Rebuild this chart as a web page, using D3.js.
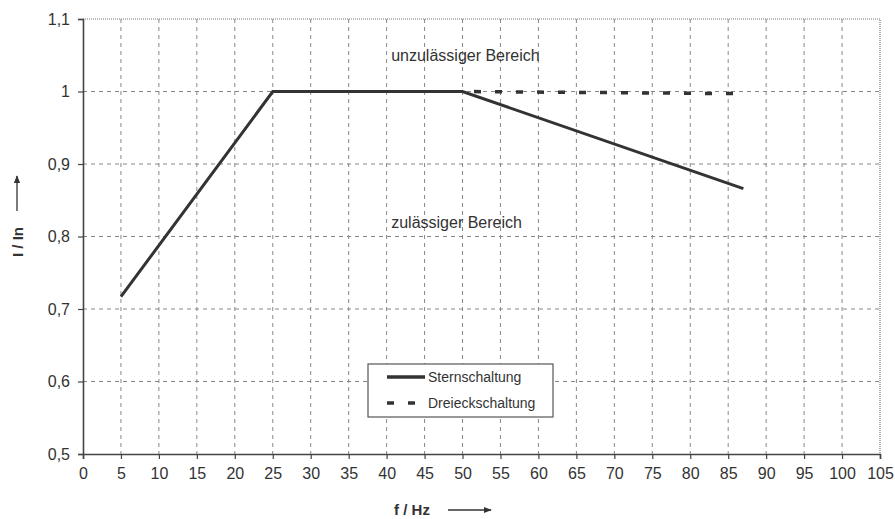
<!DOCTYPE html>
<html>
<head>
<meta charset="utf-8">
<script src="https://cdn.jsdelivr.net/npm/d3@7"></script>
<style>
body { margin: 0; background: #fff; }
svg { font-family: "Liberation Sans", Arial, sans-serif; }
</style>
</head>
<body>
<svg id="svg" width="895" height="519"></svg>
<script>
// chart data
var xTicks = d3.range(0, 106, 5)
var yTicks = [0.5, 0.6, 0.7, 0.8, 0.9, 1.0, 1.1]
var sternF = [5, 25, 50, 87]
var sternI = [0.717, 1.0, 1.0, 0.866]
var dreieckF = [50, 87]
var dreieckI = [1.0, 0.997]
var seriesNames = ["Sternschaltung", "Dreieckschaltung"]

var svg = d3.select("#svg")
var m = {left: 83, right: 15, top: 19, bottom: 65}
var w = 895 - m.left - m.right
var h = 519 - m.top - m.bottom

var x = d3.scaleLinear().domain([0, 105]).range([0, w])
var y = d3.scaleLinear().domain([0.5, 1.1]).range([h, 0])

var g = svg.append("g").attr("transform", "translate(" + m.left + "," + m.top + ")")
var fmt = function(d) { return d3.format(".1~f")(d).replace(".", ",") }

// grid
g.append("g").selectAll("line").data(xTicks.slice(1, -1)).join("line")
	.attr("x1", d => x(d)).attr("x2", d => x(d))
	.attr("y1", 0).attr("y2", h)
	.attr("stroke", "#888").attr("stroke-width", 1).attr("stroke-dasharray", "4,4")
g.append("g").selectAll("line").data(yTicks.slice(1, -1)).join("line")
	.attr("x1", 0).attr("x2", w)
	.attr("y1", d => y(d)).attr("y2", d => y(d))
	.attr("stroke", "#888").attr("stroke-width", 1).attr("stroke-dasharray", "4,4")

// dotted top and right border
g.append("path")
	.attr("d", "M0,0H" + w + "V" + h)
	.attr("fill", "none").attr("stroke", "#777").attr("stroke-width", 1.2)
	.attr("stroke-dasharray", "1,1")

// axes
var xAxis = g.append("g").attr("transform", "translate(0," + h + ")")
	.call(d3.axisBottom(x).tickValues(xTicks).tickSize(5).tickPadding(9))
var yAxis = g.append("g")
	.call(d3.axisLeft(y).tickValues(yTicks).tickFormat(fmt).tickSize(5).tickPadding(8))
;[xAxis, yAxis].forEach(function(a) {
	a.selectAll(".domain").attr("stroke", "#444").attr("stroke-width", 1.6)
	a.selectAll(".tick line").attr("stroke", "#444").attr("stroke-width", 1.2)
	a.selectAll("text").attr("font-size", 16).attr("fill", "#333")
		.attr("font-family", "Liberation Sans, Arial, sans-serif")
})

// curves
var line = d3.line().x(d => x(d[0])).y(d => y(d[1]))
g.append("path")
	.datum(d3.zip(sternF, sternI))
	.attr("d", line)
	.attr("fill", "none").attr("stroke", "#333").attr("stroke-width", 3)
	.attr("stroke-linejoin", "miter")
g.append("path")
	.datum(d3.zip(dreieckF, dreieckI))
	.attr("d", line)
	.attr("fill", "none").attr("stroke", "#333").attr("stroke-width", 3.5)
	.attr("stroke-dasharray", "7,14").attr("stroke-dashoffset", 9.5)

// region labels
g.append("text").attr("x", x(40.6)).attr("y", y(1.05)).attr("dy", "0.35em")
	.attr("font-size", 16).attr("fill", "#333").text("unzulässiger Bereich")
g.append("text").attr("x", x(40.6)).attr("y", y(0.82)).attr("dy", "0.35em")
	.attr("font-size", 16).attr("fill", "#333").text("zulässiger Bereich")

// legend
var lg = svg.append("g").attr("transform", "translate(368,364)")
lg.append("rect").attr("width", 185).attr("height", 53)
	.attr("fill", "#fff").attr("stroke", "#555").attr("stroke-width", 1.2)
seriesNames.forEach(function(name, i) {
	var yy = 13 + i * 26
	lg.append("line").attr("x1", 19).attr("x2", 57).attr("y1", yy).attr("y2", yy)
		.attr("stroke", "#333").attr("stroke-width", 3.5)
		.attr("stroke-dasharray", i ? "7,14" : null)
	lg.append("text").attr("x", 60).attr("y", yy).attr("dy", "0.35em")
		.attr("font-size", 14).attr("fill", "#333").text(name)
})

// axis titles with arrows
svg.append("defs").append("marker").attr("id", "arr")
	.attr("viewBox", "0 0 10 10").attr("refX", 9).attr("refY", 5)
	.attr("markerWidth", 6).attr("markerHeight", 6).attr("orient", "auto")
	.append("path").attr("d", "M0,1L10,5L0,9z").attr("fill", "#333")

svg.append("text").attr("x", 412).attr("y", 510).attr("dy", "0.35em").attr("text-anchor", "middle")
	.attr("font-size", 15).attr("font-weight", "bold").attr("fill", "#333").text("f / Hz")
svg.append("line").attr("x1", 448).attr("x2", 491).attr("y1", 510).attr("y2", 510)
	.attr("stroke", "#333").attr("stroke-width", 1.3).attr("marker-end", "url(#arr)")

svg.append("text").attr("transform", "translate(18,242) rotate(-90)")
	.attr("text-anchor", "middle").attr("dy", "0.35em")
	.attr("font-size", 15).attr("font-weight", "bold").attr("fill", "#333").text("I / In")
svg.append("line").attr("x1", 17).attr("x2", 17).attr("y1", 211).attr("y2", 176)
	.attr("stroke", "#333").attr("stroke-width", 1.3).attr("marker-end", "url(#arr)")
</script>
</body>
</html>
